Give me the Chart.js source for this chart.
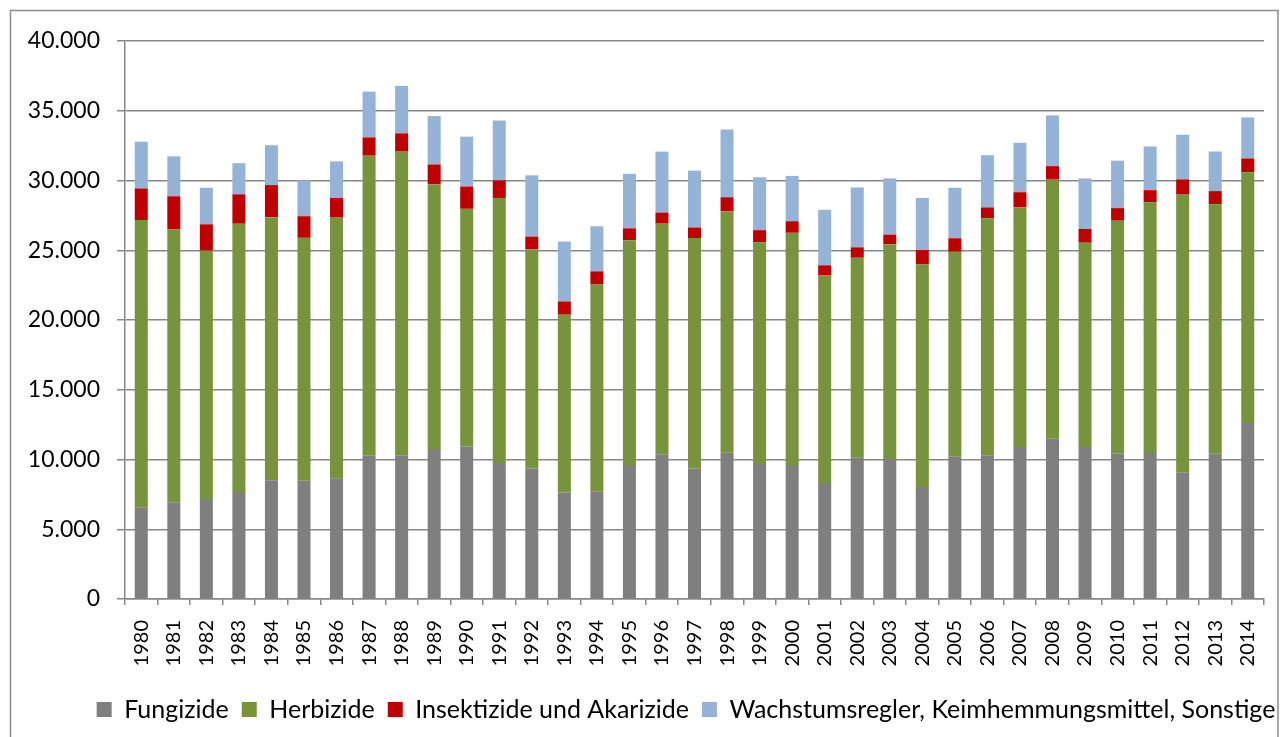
<!DOCTYPE html>
<html>
<head>
<meta charset="utf-8">
<script src="https://cdn.jsdelivr.net/npm/chart.js@4.4.0/dist/chart.umd.min.js"></script>
<style>
  html, body { margin: 0; padding: 0; background: #fff; }
  #wrap { width: 1287px; height: 737px; }
</style>
</head>
<body>
<div id="wrap"><canvas id="bar-chart" width="1287" height="737"></canvas></div>
<script>
const years = ['1980', '1981', '1982', '1983', '1984', '1985', '1986', '1987', '1988', '1989',
  '1990', '1991', '1992', '1993', '1994', '1995', '1996', '1997', '1998', '1999',
  '2000', '2001', '2002', '2003', '2004', '2005', '2006', '2007', '2008', '2009',
  '2010', '2011', '2012', '2013', '2014']

const fungizide = [6550, 6940, 7160, 7590, 8520, 8470, 8660, 10260, 10260, 10750,
  10940, 9750, 9360, 7640, 7690, 9610, 10380, 9360, 10480, 9680,
  9610, 8250, 10120, 10040, 8030, 10190, 10260, 10890, 11480, 10890,
  10410, 10460, 9050, 10410, 12690]

const herbizide = [20620, 19550, 17810, 19310, 18850, 17420, 18680, 21520, 21810, 18970,
  17030, 19000, 15700, 12740, 14850, 16110, 16570, 16520, 17320, 15890,
  16640, 14940, 14340, 15380, 15960, 14700, 17030, 17180, 18630, 14650,
  16710, 17980, 19940, 17880, 17900]

const insektizide = [2260, 2380, 1890, 2110, 2300, 1550, 1410, 1310, 1310, 1430,
  1600, 1260, 920, 950, 950, 850, 750, 750, 1000, 870,
  830, 730, 750, 700, 1020, 970, 780, 1090, 920, 990,
  900, 870, 1090, 950, 990]

const wachstum = [3350, 2860, 2620, 2230, 2860, 2570, 2620, 3280, 3400, 3470,
  3570, 4290, 4390, 4290, 3230, 3910, 4370, 4080, 4850, 3790,
  3250, 3980, 4290, 4030, 3740, 3620, 3740, 3540, 3640, 3620,
  3400, 3130, 3200, 2840, 2940]

const yTicks = [0, 5000, 10000, 15000, 20000, 25000, 30000, 35000, 40000]

const gridColor = '#878787'

// thousands with a dot, as in the original
function formatNumber (value) {
  return String(value).replace(/\B(?=(\d{3})+(?!\d))/g, '.')
}

// light grey frame round the whole chart
const frame = {
  id: 'frame',
  afterDraw (chart) {
    const ctx = chart.ctx
    ctx.save()
    ctx.strokeStyle = '#8c8c8c'
    ctx.lineWidth = 1.5
    ctx.strokeRect(10.5, 10.5, 1267.5, 740)
    ctx.restore()
  }
}

// the legend in the original is centred under the plot, not the canvas
const legendShift = {
  id: 'legendShift',
  afterLayout (chart) {
    chart.legend.left += 51
    chart.legend.right += 51
  }
}

function makeSet (label, data, color) {
  return {
    label,
    data,
    backgroundColor: color,
    borderWidth: 0,
    barPercentage: 0.4,
    categoryPercentage: 1
  }
}

const canvas = document.querySelector('#bar-chart')

// eslint-disable-next-line no-unused-vars, no-undef
const chart = new Chart(canvas, {
  type: 'bar',
  data: {
    labels: years,
    datasets: [
      makeSet('Fungizide', fungizide, '#7f7f7f'),
      makeSet('Herbizide', herbizide, '#77933c'),
      makeSet('Insektizide und Akarizide', insektizide, '#c00000'),
      makeSet('Wachstumsregler, Keimhemmungsmittel, Sonstige', wachstum, '#95b3d7')
    ]
  },
  plugins: [frame, legendShift],
  options: {
    responsive: false,
    animation: false,
    layout: {
      padding: { left: 0, right: 17, top: 41, bottom: 5 }
    },
    scales: {
      x: {
        stacked: true,
        grid: {
          offset: true,
          drawOnChartArea: false,
          drawTicks: true,
          tickLength: 6,
          color: gridColor,
          lineWidth: 1.5
        },
        border: { color: gridColor, width: 1.5 },
        ticks: {
          color: '#000',
          font: { family: 'Lato', size: 20 },
          minRotation: 90,
          maxRotation: 90,
          autoSkip: false,
          padding: 15
        },
        afterFit (scale) { scale.height = 85 }
      },
      y: {
        stacked: true,
        min: 0,
        max: 40000,
        afterBuildTicks (scale) {
          scale.ticks = yTicks.map(v => ({ value: v }))
        },
        grid: {
          color: gridColor,
          lineWidth: 1.5,
          tickLength: 8
        },
        border: { color: gridColor, width: 1.5 },
        ticks: {
          color: '#000',
          font: { family: 'Lato', size: 23 },
          padding: 17,
          callback: value => formatNumber(value)
        },
        afterFit (scale) { scale.width = 125 }
      }
    },
    plugins: {
      legend: {
        position: 'bottom',
        labels: {
          color: '#000',
          font: { family: 'Lato', size: 25 },
          boxWidth: 15,
          boxHeight: 15,
          padding: 13
        }
      },
      tooltip: { enabled: false },
      title: { display: false }
    }
  }
})
</script>
</body>
</html>
